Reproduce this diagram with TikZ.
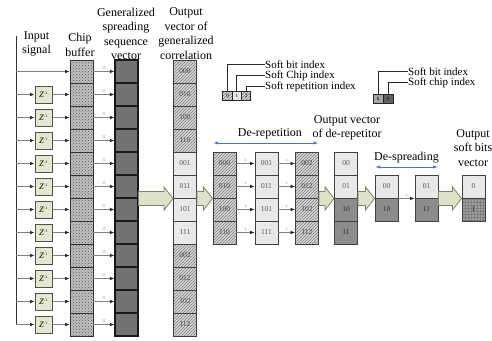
\documentclass[tikz,border=0pt]{standalone}
\usepackage{fontspec}
\setmainfont{Liberation Serif}
\usetikzlibrary{patterns,arrows.meta,calc}
\definecolor{zfill}{HTML}{E4E7CF}
\definecolor{zdraw}{HTML}{4F5245}
\definecolor{arrfill}{HTML}{DCE3C6}
\definecolor{arrdraw}{HTML}{7E836C}
\definecolor{bluel}{HTML}{4876C2}
\newcommand{\blockarr}[2]{%
  \path let \p1=(#1), \p2=(#2) in
    [draw=arrdraw, fill=arrfill, line width=0.8pt, line join=miter]
    (\x1,\y1-7pt) -- (\x2-9pt,\y1-7pt) -- (\x2-9pt,\y1-11.5pt) -- (\x2,\y1)
    -- (\x2-9pt,\y1+11.5pt) -- (\x2-9pt,\y1+7pt) -- (\x1,\y1+7pt) -- cycle;}
\begin{document}
\begin{tikzpicture}[x=1pt,y=-1pt,
  cell/.style={draw=black!75, line width=0.9pt, minimum width=23pt, minimum height=23pt,
    inner sep=0pt, font=\fontsize{7.5}{7.5}\selectfont, text=black!65},
  chipc/.style={cell, draw=black!80, preaction={fill=black!25}, pattern=crosshatch dots, pattern color=black!65},
  sprc/.style={cell, draw=black!90, line width=1.1pt, fill=black!55},
  hatc/.style={cell, preaction={fill=black!16}, pattern=north east lines, pattern color=black!50, text=black!70},
  litec/.style={cell, fill=black!9},
  darkc/.style={cell, fill=black!45, text=black!80},
  darkg/.style={cell, preaction={fill=black!38}, pattern=grid, pattern color=black!50, text=black!80},
  zbox/.style={draw=zdraw, fill=zfill, line width=1pt, minimum width=17pt, minimum height=17pt,
    inner sep=0pt, font=\fontsize{8.5}{8.5}\selectfont},
  thinarr/.style={draw=black!50, line width=0.7pt, -{Latex[length=4.5pt,width=3.6pt,color=black!85]}},
  bluearr/.style={draw=bluel, line width=0.8pt, {Latex[length=5pt,width=3.2pt]}-{Latex[length=5pt,width=3.2pt]}},
  ttl/.style={font=\fontsize{12}{14.5}\selectfont, align=center, inner sep=0pt},
  lgd/.style={font=\fontsize{11}{11}\selectfont, anchor=west, inner sep=0pt},
  small/.style={font=\fontsize{6}{6}\selectfont, text=black!45, inner sep=0.5pt},
  lcell/.style={draw=black!85, line width=0.8pt, minimum width=9.3pt, minimum height=9pt, inner sep=0pt,
    font=\fontsize{5}{5}\selectfont}
]
\useasboundingbox (0,0) rectangle (492,340);

% titles
\node[ttl] (tin) at (36.5,44) {Input\\signal};
\node[ttl] (tch) at (80,45) {Chip\\buffer};
\node[ttl] (tsp) at (126,34) {Generalized\\spreading\\sequence\\vector};
\node[ttl] (tco) at (186,33.5) {Output\\vector of\\generalized\\correlation};

% input bus
\coordinate (vtop) at (16,36);
\foreach \i in {1,...,12} {
  \coordinate (in\i) at (16,{71.5+23*(\i-1)});
  \node[chipc] (ch\i) at (81.5,{71.5+23*(\i-1)}) {};
  \node[sprc] (sp\i) at (126.5,{71.5+23*(\i-1)}) {};
}
\draw[black!80, line width=0.9pt] (vtop) -- (in12);
\draw[thinarr] (in1) -- (ch1.west);
\foreach \i in {2,...,12} {
  \node[zbox] (z\i) at (43.5,{71.5+23*(\i-1)}) {\textit{Z}\textsuperscript{\fontsize{4}{4}\selectfont -1}};
  \draw[thinarr] (in\i) -- (z\i.west);
  \draw[thinarr] (z\i.east) -- (ch\i.west);
}
\foreach \i in {1,...,12} {
  \draw[thinarr] (ch\i.east) -- node[small, above=0pt] {$\times$} (sp\i.west);
}

% generalized correlation output
\foreach \lab/\i in {000/1,010/2,100/3,110/4,002/9,012/10,102/11,112/12}
  \node[hatc] (co\i) at (185,{71.5+23*(\i-1)}) {\lab};
\foreach \lab/\i in {001/5,011/6,101/7,111/8}
  \node[litec] (co\i) at (185,{71.5+23*(\i-1)}) {\lab};

% de-repetition
\foreach \la/\lb/\lc/\k in {000/001/002/1,010/011/012/2,100/101/102/3,110/111/112/4} {
  \node[hatc] (A\k) at (224.5,{163.5+23*(\k-1)}) {\la};
  \node[litec] (B\k) at (266.5,{163.5+23*(\k-1)}) {\lb};
  \node[hatc] (C\k) at (307,{163.5+23*(\k-1)}) {\lc};
  \draw[thinarr] (A\k.east) -- node[small, above=0pt] {+} (B\k.west);
  \draw[thinarr] (B\k.east) -- node[small, above=0pt] {+} (C\k.west);
}
\coordinate (dr1) at (213,143);
\coordinate (dr2) at (318.5,143);
\draw[bluearr] (dr1) -- node[ttl, pos=0.54, above=4pt] {De-repetition} (dr2);

% de-repetitor output
\node[litec] (R1) at (346,163.5) {00};
\node[litec] (R2) at (346,186.5) {01};
\node[darkc] (R3) at (346,209.5) {10};
\node[darkc] (R4) at (346,232.5) {11};
\node[ttl] (tdr) at (347,128) {Output vector\\of de-repetitor};

% de-spreading
\node[litec] (D1) at (386.5,186.5) {00};
\node[darkc] (D2) at (386.5,209.5) {10};
\node[litec] (E1) at (426.5,186.5) {01};
\node[darkc] (E2) at (426.5,209.5) {11};
\draw[thinarr] (D1.south east) -- node[small, above=0pt] {+} (E1.south west);
\coordinate (ds1) at (375,167);
\coordinate (ds2) at (438,167);
\draw[bluearr] (ds1) -- node[ttl, above=4pt] {De-spreading} (ds2);

% output soft bits
\node[litec] (F1) at (473.5,186.5) {0};
\node[darkg] (F2) at (473.5,209.5) {1};
\node[ttl] (tout) at (473,148) {Output\\soft bits\\vector};

% block arrows
\blockarr{sp6.south east}{co6.south west}
\blockarr{co6.south east}{A2.south west}
\blockarr{C2.south east}{R2.south west}
\blockarr{R2.south east}{D1.south west}
\blockarr{E1.south east}{F1.south west}

% legend 1
\node[lcell, preaction={fill=black!14}, pattern=north east lines, pattern color=black!55] (L1) at (227.5,95.5) {0};
\node[lcell, fill=black!9] (L2) at (236.8,95.5) {1};
\node[lcell, preaction={fill=black!14}, pattern=north east lines, pattern color=black!55] (L3) at (246.1,95.5) {2};
\node[lgd] (lt1) at (265,64.5) {Soft bit index};
\node[lgd] (lt2) at (265,75.5) {Soft Chip index};
\node[lgd] (lt3) at (265,86.5) {Soft repetition index};
\draw[black!85, line width=0.8pt] (L1.north) |- (lt1.west);
\draw[black!85, line width=0.8pt] (L2.north) |- (lt2.west);
\draw[black!85, line width=0.8pt] (L3.north) |- (lt3.west);

% legend 2
\node[lcell, minimum width=10pt, fill=black!35] (M1) at (378,98.5) {0};
\node[lcell, minimum width=10pt, fill=black!62] (M2) at (388,98.5) {1};
\node[lgd] (mt1) at (408,71.5) {Soft bit index};
\node[lgd] (mt2) at (408,82.5) {Soft chip index};
\draw[black!85, line width=0.8pt] (M1.north) |- (mt1.west);
\draw[black!85, line width=0.8pt] (M2.north) |- (mt2.west);
\end{tikzpicture}
\end{document}
